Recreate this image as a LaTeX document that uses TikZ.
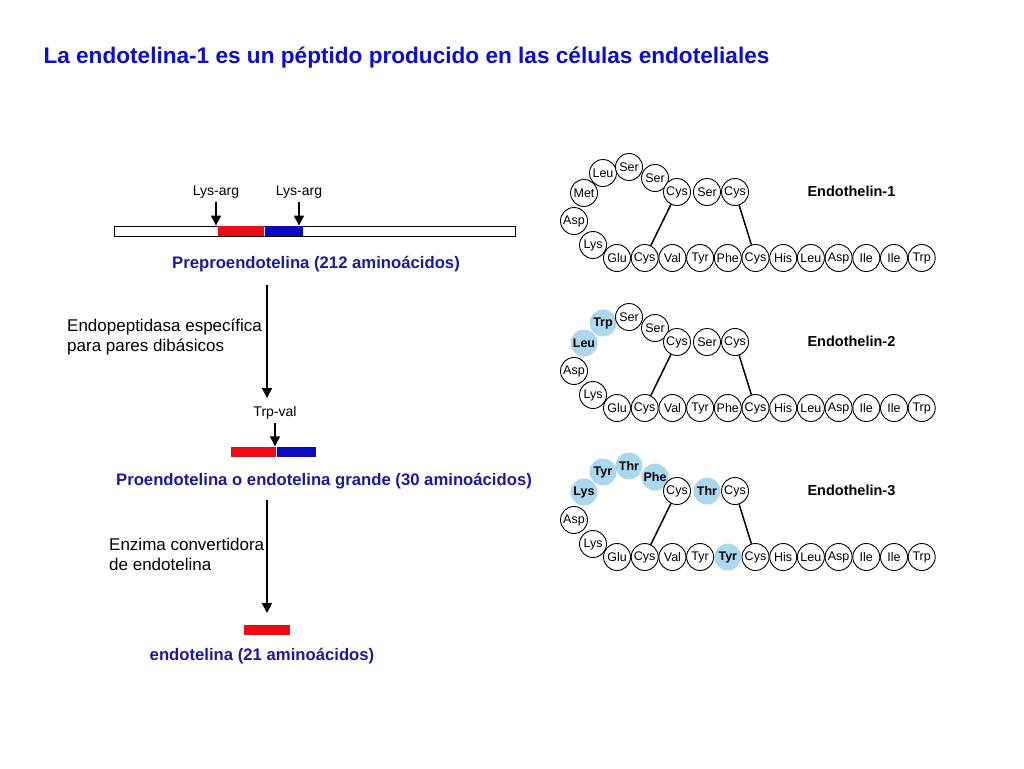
\documentclass[tikz,border=0pt]{standalone}
\usepackage{fontspec}
\setmainfont{Liberation Sans}
\usetikzlibrary{positioning,arrows.meta}
\definecolor{ttlblue}{RGB}{12,12,215}
\definecolor{lblblue}{RGB}{25,25,165}
\definecolor{hlblue}{RGB}{172,216,238}
\definecolor{segred}{RGB}{240,10,20}
\definecolor{segblue}{RGB}{10,10,190}
\tikzset{
  line/.style={-{Triangle[length=10pt,width=10pt]}, line width=1.5pt},
  bond/.style={line width=1.5pt},
  seg/.style={inner sep=0pt, minimum height=10pt, anchor=west},
  redseg/.style={seg, fill=segred},
  blueseg/.style={seg, fill=segblue},
  pname/.style={font=\fontsize{16.7}{19}\selectfont\bfseries, text=lblblue},
  site/.style={font=\fontsize{14}{16}\selectfont},
  note/.style={font=\fontsize{17}{20}\selectfont, align=left, anchor=west, inner sep=0pt},
  aa/.style={circle, draw, line width=0.9pt, minimum size=27pt, inner sep=0pt,
    fill=white, font=\fontsize{12.5}{12}\selectfont},
  hl/.style={aa, draw=none, fill=hlblue, font=\fontsize{12.5}{12}\selectfont\bfseries}
}
% #1 number, #2 shift, #3 ring residues, #4 straight residues
\newcommand{\etchain}[4]{%
  \begin{scope}[yshift=#2]
    \foreach \res/\sty [count=\i] in {#3} {
      \pgfmathsetmacro\lx{{593,574,584,603,629,655,677,707,735}[\i-1]}
      \pgfmathsetmacro\ly{{245,221,193,173,167,178,192,192,192}[\i-1]}
      \node[\sty] (et#1l\i) at (\lx,\ly) {\res};
    }
    \foreach \res/\sty [count=\i] in {#4}
      \node[\sty] (et#1b\i) at ({617+27.7*(\i-1)},258) {\res};
    \draw[bond] (et#1l7) -- (et#1b2);
    \draw[bond] (et#1l9) -- (et#1b6);
    \node[font=\fontsize{14.5}{16}\selectfont\bfseries, anchor=west] (et#1name) at (804,191) {Endothelin-#1};
  \end{scope}}

\begin{document}
\begin{tikzpicture}[x=1pt, y=-1pt]
  \useasboundingbox (0,0) rectangle (1024,768);
  \node[font=\fontsize{22.6}{26}\selectfont\bfseries, text=ttlblue, anchor=west] (title) at (40,58)
    {La endotelina-1 es un péptido producido en las células endoteliales};

  % preproendotelina
  \node[seg, draw, line width=0.9pt, minimum width=401pt] (pre) at (114,231) {};
  \node[redseg, minimum width=46pt] (preR) at (218,231) {};
  \node[blueseg, minimum width=38pt] (preB) at (preR.east) {};
  \node[site] (la1) at (216,192) {Lys-arg};
  \node[site] (la2) at (299,192) {Lys-arg};
  \draw[line] (la1.south) -- (la1.south |- pre.north);
  \draw[line] (la2.south) -- (la2.south |- pre.north);
  \node[pname] (preL) at (316,264) {Preproendotelina (212 aminoácidos)};

  \coordinate (s1) at (267,285);
  \coordinate (e1) at (267,398);
  \draw[line] (s1) -- (e1);
  \node[note] (n1) at (67,337) {Endopeptidasa específica\\para pares dibásicos};

  % proendotelina
  \node[redseg, minimum width=45pt] (proR) at (231,451.5) {};
  \node[blueseg, minimum width=39pt] (proB) at (proR.east) {};
  \node[site] (tv) at (275,413) {Trp-val};
  \draw[line] (tv.south) -- (tv.south |- proR.north east);
  \node[pname] (proL) at (324,481) {Proendotelina o endotelina grande (30 aminoácidos)};

  \coordinate (s2) at (267,500);
  \coordinate (e2) at (267,613);
  \draw[line] (s2) -- (e2);
  \node[note] (n2) at (109,554) {Enzima convertidora\\de endotelina};

  % endotelina
  \node[redseg, minimum width=46pt] (etR) at (244,630) {};
  \node[pname] (etL) at (262,656) {endotelina (21 aminoácidos)};

  % structures
  \etchain{1}{0pt}{Lys/aa,Asp/aa,Met/aa,Leu/aa,Ser/aa,Ser/aa,Cys/aa,Ser/aa,Cys/aa}
    {Glu/aa,Cys/aa,Val/aa,Tyr/aa,Phe/aa,Cys/aa,His/aa,Leu/aa,Asp/aa,Ile/aa,Ile/aa,Trp/aa}
  \etchain{2}{-150pt}{Lys/aa,Asp/aa,Leu/hl,Trp/hl,Ser/aa,Ser/aa,Cys/aa,Ser/aa,Cys/aa}
    {Glu/aa,Cys/aa,Val/aa,Tyr/aa,Phe/aa,Cys/aa,His/aa,Leu/aa,Asp/aa,Ile/aa,Ile/aa,Trp/aa}
  \etchain{3}{-299pt}{Lys/aa,Asp/aa,Lys/hl,Tyr/hl,Thr/hl,Phe/hl,Cys/aa,Thr/hl,Cys/aa}
    {Glu/aa,Cys/aa,Val/aa,Tyr/aa,Tyr/hl,Cys/aa,His/aa,Leu/aa,Asp/aa,Ile/aa,Ile/aa,Trp/aa}
\end{tikzpicture}
\end{document}
